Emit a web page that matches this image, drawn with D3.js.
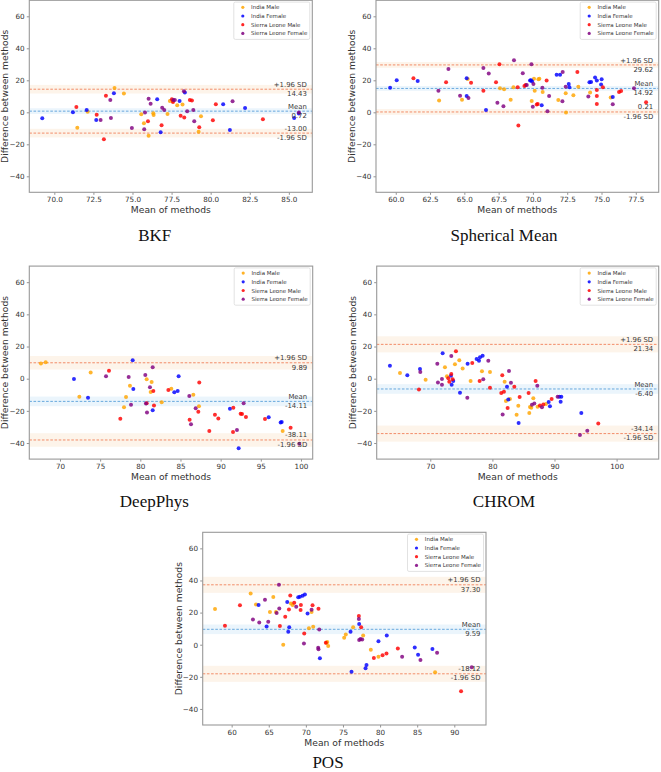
<!DOCTYPE html>
<html><head><meta charset="utf-8">
<script src="https://cdn.jsdelivr.net/npm/d3@7"></script>
<style>body{margin:0;background:#fff} svg{display:block}</style>
</head><body><svg id="c" width="661" height="772"></svg>
<script>
// ---------- DATA ----------
const groups = ["India Male","India Female","Sierra Leone Male","Sierra Leone Female"];
const groupColors = ["#FFA500","#0000FF","#FF0000","#800080"];
const titles = ["BKF","Spherical Mean","DeepPhys","CHROM","POS"];
const meanDiff = [0.72, 14.92, -14.11, -6.40, 9.59];
const upperLoA = [14.43, 29.62, 9.89, 21.34, 37.30];
const lowerLoA = [-13.00, 0.21, -38.11, -34.14, -18.12];
const meanCI = [1.8, 1.5, 3.0, 3.0, 3.0];
const loaCI = [2.7, 1.8, 4.2, 5.0, 5.0];
const xDomains = [[68.4,86.5],[58.56,79.17],[66.18,101.46],[61.37,106.78],[56.1,94.27]];
const yDomain = [-50, 70];
const xTicks = [
  [70,72.5,75,77.5,80,82.5,85],
  [60,62.5,65,67.5,70,72.5,75,77.5],
  [70,75,80,85,90,95,100],
  [70,80,90,100],
  [60,65,70,75,80,85,90]
];
const xTickDecimals = [1,1,0,0,0];
const yTicks = [-40,-20,0,20,40,60];

// BKF
const bkfIndiaMale = [[73.85,15.2],[74.45,11.7],[71.47,-9.6],[72.13,0.4],[75.56,-1.25],[75.73,-6.9],[76.03,-14.6],[76.35,-1.7],[76.33,-0.6],[77.24,-1.0],[77.39,7.1],[77.58,7.1],[77.86,4.4],[78.2,4.8],[79.23,-12.1],[79.38,-2.5]];
const bkfIndiaFemale = [[69.23,-3.75],[71.19,0],[72.07,1.5],[72.68,-4.8],[73.81,11.9],[76.58,8.1],[76.8,-12.5],[78.01,7.1],[78.35,12.3],[80.8,5.0],[81.23,-11.0],[82.2,2.7],[85.34,-3.5],[85.64,-0.8]];
const bkfSLMale = [[71.41,3.3],[72.71,-1.5],[73.17,-16.9],[73.3,10.4],[75.99,-5.6],[76.86,-8.1],[77.52,8.1],[77.59,6.5],[78.08,-2.1],[78.31,-3.3],[78.67,7.7],[78.8,7.3],[79.27,-9.4],[80.14,-5.0],[80.33,5.0],[83.34,-4.4]];
const bkfSLFemale = [[72.96,-4.8],[73.58,7.7],[73.62,-3.5],[74.96,-9.8],[75.8,-0.2],[75.75,-10.6],[76.03,8.5],[76.16,5.4],[76.9,2.9],[77.03,1.5],[77.61,7.7],[77.71,7.7],[78.29,13.1],[78.5,0.6],[78.89,1.5],[78.95,-5.6],[81.4,6.9],[85.64,-0.2]];

// Spherical Mean
const smIndiaMale = [[63.16,7.3],[64.83,7.9],[65.25,20.8],[67.6,15.0],[67.9,14.4],[68.38,7.9],[68.58,15.6],[69.91,7.1],[70.08,21.0],[70.13,13.5],[70.4,20.6],[70.47,21.0],[70.71,12.7],[71.85,7.7],[72.39,11.9],[72.41,-0.2],[72.95,10.6],[73.31,16.0],[74.17,12.3],[75.67,9.2]];
const smIndiaFemale = [[59.59,15.4],[60.07,20.0],[61.6,19.6],[65.17,21.25],[65.17,10.2],[66.58,1.5],[69.79,19.8],[69.94,19.2],[69.86,20.0],[70.64,4.4],[71.73,23.5],[71.98,23.5],[72.61,17.7],[72.66,15.6],[74.12,18.75],[74.24,19.0],[74.53,21.7],[74.66,19.8],[74.97,17.3],[75.01,20.6],[75.82,9.6]];
const smSLMale = [[61.29,21.25],[63.67,18.75],[65.49,18.5],[66.39,13.5],[67.31,18.75],[67.56,30.0],[68.94,-8.3],[68.89,15.6],[69.38,16.5],[69.47,17.1],[70.35,5.2],[70.28,4.8],[71.0,19.8],[73.24,25.2],[74.66,14.0],[74.66,10.2],[74.66,5.2],[75.1,15.6],[76.28,12.7],[76.43,13.3],[78.25,6.25]];
const smSLFemale = [[63.11,13.5],[63.84,27.1],[64.69,10.4],[65.3,9.0],[66.39,27.7],[66.78,24.2],[67.41,6.0],[67.85,3.75],[68.62,32.5],[69.26,24.4],[69.55,17.1],[69.89,30.0],[70.04,17.7],[69.99,3.5],[70.69,15.4],[71.06,0.6],[71.18,10.2],[72.17,25.2],[72.15,6.9],[72.39,16.0],[74.04,9.8],[75.82,5.0],[77.37,15.0]];

// DeepPhys
const dpIndiaMale = [[67.63,9.5],[68.22,10.2],[72.41,-11.2],[73.82,3.9],[77.97,-17.8],[78.22,-11.4],[78.71,-4.35],[80.79,-0.4],[81.41,-2.1],[81.29,-8.3],[82.66,-14.7],[83.86,-6.2],[86.6,-10.0],[87.3,-17.2],[97.72,-32.5]];
const dpIndiaFemale = [[71.74,-0.2],[73.49,-11.8],[79.13,-6.4],[79.05,11.4],[81.54,-19.7],[84.23,-8.5],[84.65,-7.7],[84.77,1.45],[91.16,-18.7],[92.24,-43.3],[95.98,-24.0],[97.47,-27.2],[97.6,-26.9]];
const dpSLMale = [[76.1,5.0],[77.51,-24.9],[80.79,-15.3],[81.7,-16.6],[81.62,-7.7],[83.49,-7.0],[86.14,-25.5],[87.34,-2.3],[87.22,-20.5],[88.59,-32.5],[89.29,-22.4],[89.71,-24.7],[91.58,-18.0],[91.54,-33.2],[92.49,-21.8],[92.66,-22.0],[93.15,-23.8],[95.52,-25.1],[98.71,-30.5]];
const dpSLFemale = [[75.73,1.45],[78.55,1.0],[78.84,-16.2],[80.62,2.3],[81.2,-5.4],[80.83,-21.1],[80.7,-15.5],[81.54,7.05],[86.1,-10.8],[86.31,-28.4],[86.89,-18.4],[92.03,-31.9],[92.86,-15.3],[99.79,-40.4]];

// CHROM
const chIndiaMale = [[65.12,3.5],[69.25,-0.6],[72.36,7.05],[72.68,1.45],[73.97,8.9],[74.67,11.4],[75.21,6.4],[76.49,-1.45],[78.32,4.6],[79.61,4.1],[81.97,-1.9],[82.18,-13.9],[82.83,-12.6],[83.9,-22.4],[84.17,-16.8],[85.94,-21.4],[86.05,-17.6],[86.26,-18.0],[86.59,-12.2],[87.28,-17.4],[88.63,-15.75]];
const chIndiaFemale = [[63.5,8.1],[66.3,2.1],[68.34,6.0],[71.99,15.75],[73.33,1.9],[73.44,-3.7],[73.7,-1.45],[74.78,-8.7],[76.01,9.3],[77.46,12.2],[77.84,11.2],[78.0,13.3],[78.43,14.3],[82.35,-5.0],[82.56,-12.9],[84.22,-27.6],[89.06,-14.5],[89.27,-17.2],[90.77,-11.2],[91.1,-11.2],[90.99,-14.3],[94.32,-21.4]];
const chSLMale = [[68.17,-6.8],[72.9,0.2],[73.06,-1.9],[73.38,2.9],[73.6,-0.4],[74.13,17.0],[76.76,9.7],[77.94,-1.45],[79.61,-5.6],[81.59,2.1],[81.43,-8.9],[81.86,-8.1],[82.45,-18.2],[83.53,-5.0],[84.39,-11.4],[85.83,-8.9],[86.96,-1.45],[87.66,-16.6],[88.2,-16.0],[89.54,-12.6],[97.05,-27.8]];
const chSLFemale = [[68.39,4.1],[71.13,9.3],[71.23,-2.3],[71.88,-0.2],[71.88,-3.7],[73.38,14.1],[75.96,-11.8],[78.53,-0.4],[79.34,11.2],[81.65,-22.2],[82.67,4.8],[82.99,-2.5],[86.37,-16.2],[86.75,-15.5],[87.23,-4.35],[87.98,-17.8],[90.5,-11.2],[94.1,-35.0],[95.28,-32.3]];

// POS
const posIndiaMale = [[57.76,22.2],[62.56,31.95],[63.28,25.1],[65.16,20.3],[65.61,29.7],[65.97,20.3],[66.95,0],[67.99,25.7],[68.21,24.7],[70.41,10.2],[70.77,20.3],[70.99,11.2],[72.79,1.2],[73.01,-0.8],[72.88,1.7],[75.16,4.35],[75.38,6.4],[76.37,10.8],[77.72,5.8],[78.75,-3.1],[79.78,-7.5],[87.41,-17.2]];
const posIndiaFemale = [[63.63,24.7],[64.71,11.4],[67.49,26.6],[67.63,8.1],[67.76,10.8],[68.97,29.5],[69.2,29.9],[69.56,30.5],[69.87,31.3],[70.23,19.5],[71.89,-8.5],[76.02,8.1],[76.15,-16.8],[77.18,12.9],[78.04,-14.7],[78.17,-12.7],[79.78,2.1],[80.9,5.8],[84.67,-1.7],[85.12,-6.2],[87.05,-2.7]];
const posSLMale = [[59.1,11.8],[61.12,24.5],[66.5,11.6],[67.22,17.4],[67.72,22.0],[67.9,30.7],[68.43,26.1],[69.29,21.6],[69.33,24.7],[69.78,7.05],[70.9,24.5],[71.7,22.4],[72.69,1.2],[77.14,17.8],[77.45,10.8],[79.16,-8.3],[80.33,-6.6],[80.86,-5.4],[82.39,-2.3],[90.91,-29.0]];
const posSLFemale = [[62.87,15.75],[63.72,13.9],[64.49,28.0],[64.93,14.3],[66.06,19.7],[66.37,37.3],[66.42,22.6],[68.7,23.7],[69.74,0.8],[70.77,21.8],[71.66,-1.9],[71.7,-2.9],[71.8,9.5],[77.14,16.0],[77.18,2.9],[77.36,3.5],[77.59,3.3],[82.97,-7.5],[85.44,-9.5],[87.68,-5.0],[92.35,-14.1]];

const panelSeries = [
  [bkfIndiaMale, bkfIndiaFemale, bkfSLMale, bkfSLFemale],
  [smIndiaMale, smIndiaFemale, smSLMale, smSLFemale],
  [dpIndiaMale, dpIndiaFemale, dpSLMale, dpSLFemale],
  [chIndiaMale, chIndiaFemale, chSLMale, chSLFemale],
  [posIndiaMale, posIndiaFemale, posSLMale, posSLFemale]
];

// ---------- LAYOUT ----------
const layout = [
  {l:29.3, r:312.3, t:0.3,   b:192.3, tx:154.7, ty:240.5},
  {l:376,  r:658.7, t:0.3,   b:192.3, tx:504,   ty:240.5},
  {l:29.3, r:312.7, t:266.1, b:459.1, tx:154.3, ty:506.5},
  {l:376.7,r:658.7, t:266.1, b:459.1, tx:504,   ty:506.5},
  {l:202.7,r:486,   t:532.3, b:725,   tx:328,   ty:767.5}
];
const FONT = "DejaVu Sans";
const meanColor = "#4f9ad8", loaColor = "#f07a52";
const meanFill = "#ebf5fc", loaFill = "#fdf4ea";

const svg = d3.select("#c");
svg.append("rect").attr("width",661).attr("height",772).attr("fill","#fff");

layout.forEach((p, i) => {
  const x = d3.scaleLinear().domain(xDomains[i]).range([p.l, p.r]);
  const y = d3.scaleLinear().domain(yDomain).range([p.b, p.t]);
  const g = svg.append("g");
  const clipId = "clip" + i;
  svg.append("clipPath").attr("id", clipId).append("rect")
    .attr("x", p.l).attr("y", p.t).attr("width", p.r - p.l).attr("height", p.b - p.t);
  const inner = g.append("g").attr("clip-path", `url(#${clipId})`);

  const band = (c, h, fill) => inner.append("rect")
    .attr("x", p.l).attr("width", p.r - p.l)
    .attr("y", y(c + h)).attr("height", y(c - h) - y(c + h)).attr("fill", fill);
  band(upperLoA[i], loaCI[i], loaFill);
  band(lowerLoA[i], loaCI[i], loaFill);
  band(meanDiff[i], meanCI[i], meanFill);

  const hline = (v, col) => inner.append("line")
    .attr("x1", p.l).attr("x2", p.r).attr("y1", y(v)).attr("y2", y(v))
    .attr("stroke", col).attr("stroke-width", 0.85).attr("stroke-dasharray", "2.6,1.6");
  hline(upperLoA[i], loaColor);
  hline(lowerLoA[i], loaColor);
  hline(meanDiff[i], meanColor);

  panelSeries[i].forEach((pts, k) => {
    inner.selectAll(null).data(pts).enter().append("circle")
      .attr("cx", d => x(d[0])).attr("cy", d => y(d[1])).attr("r", 2.0)
      .attr("fill", groupColors[k]).attr("fill-opacity", 0.82);
  });

  // annotations
  const ax = p.r - 5.5;
  const ann = (txt, yy) => g.append("text").attr("x", ax).attr("y", yy)
    .attr("text-anchor", "end").attr("font-family", FONT).attr("font-size", 6.9)
    .attr("fill", "#3a3a3a").text(txt);
  ann("+1.96 SD", y(upperLoA[i]) - 2.4);
  ann(upperLoA[i].toFixed(2), y(upperLoA[i]) + 6.8);
  ann("Mean", y(meanDiff[i]) - 2.4);
  ann(meanDiff[i].toFixed(2), y(meanDiff[i]) + 6.8);
  ann(lowerLoA[i].toFixed(2), y(lowerLoA[i]) - 2.6);
  ann("-1.96 SD", y(lowerLoA[i]) + 6.6);

  // axes
  const xAxis = d3.axisBottom(x).tickValues(xTicks[i])
    .tickFormat(d => d.toFixed(xTickDecimals[i])).tickSize(2.5).tickPadding(2);
  const yAxis = d3.axisLeft(y).tickValues(yTicks)
    .tickFormat(d => d < 0 ? "\u2212" + Math.abs(d) : String(d)).tickSize(2.5).tickPadding(2.2);
  const gx = g.append("g").attr("transform", `translate(0,${p.b})`).call(xAxis);
  const gy = g.append("g").attr("transform", `translate(${p.l},0)`).call(yAxis);
  [gx, gy].forEach(a => {
    a.select(".domain").remove();
    a.selectAll("line").attr("stroke", "#777").attr("stroke-width", 0.8);
    a.selectAll("text").attr("font-family", FONT).attr("font-size", 7.2).attr("fill", "#333");
  });

  // frame
  g.append("rect").attr("x", p.l).attr("y", p.t).attr("width", p.r - p.l).attr("height", p.b - p.t)
    .attr("fill", "none").attr("stroke", "#999").attr("stroke-width", 1.1);

  // legend
  const lw = 76, lh = 37.3;
  const lx = p.r - 2.5 - lw, ly = p.t + 1.8;
  const lg = g.append("g");
  lg.append("rect").attr("x", lx).attr("y", ly).attr("width", lw).attr("height", lh)
    .attr("rx", 1.5).attr("fill", "#fff").attr("fill-opacity", 0.85)
    .attr("stroke", "#d5d5d5").attr("stroke-width", 0.7);
  groups.forEach((name, k) => {
    const yy = ly + 5.2 + k * 8.7;
    lg.append("circle").attr("cx", lx + 9).attr("cy", yy).attr("r", 1.6)
      .attr("fill", groupColors[k]).attr("fill-opacity", 0.85);
    lg.append("text").attr("x", lx + 17.3).attr("y", yy + 2).attr("font-family", FONT)
      .attr("font-size", 5.5).attr("fill", "#333").text(name);
  });

  // axis labels
  g.append("text").attr("x", (p.l + p.r) / 2).attr("y", p.b + 20.5)
    .attr("text-anchor", "middle").attr("font-family", FONT).attr("font-size", 9.2)
    .attr("fill", "#333").text("Mean of methods");
  g.append("text").attr("transform", `translate(${p.l - 21},${(p.t + p.b) / 2}) rotate(-90)`)
    .attr("text-anchor", "middle").attr("font-family", FONT).attr("font-size", 9.2)
    .attr("fill", "#333").text("Difference between methods");

  // title
  g.append("text").attr("x", p.tx).attr("y", p.ty).attr("text-anchor", "middle")
    .attr("font-family", "Liberation Serif").attr("font-size", 17).attr("fill", "#111")
    .text(titles[i]);
});
</script></body></html>
